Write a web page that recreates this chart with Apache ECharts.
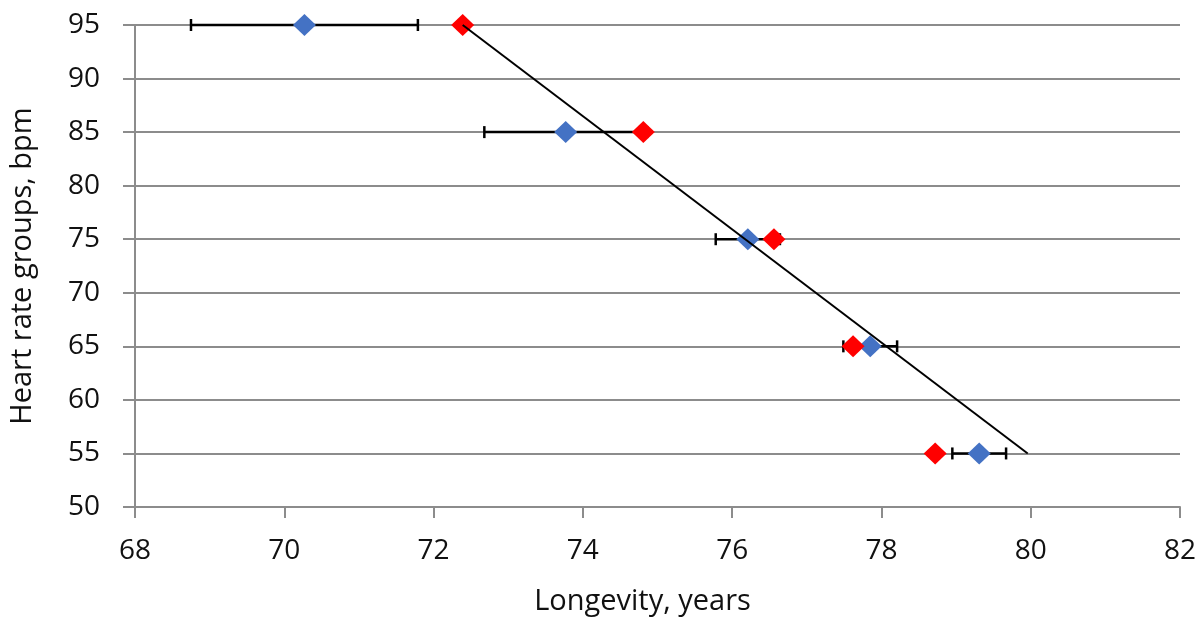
<!DOCTYPE html>
<html>
<head>
<meta charset="utf-8">
<script src="https://cdn.jsdelivr.net/npm/echarts@6/dist/echarts.min.js"></script>
<style>
  html, body { margin: 0; padding: 0; background: #fff; }
  #chart { width: 1200px; height: 621px; }
</style>
</head>
<body>
<div id="chart"></div>
<script>
  // heart rate groups (y) and longevity (x)
  var hrGroups = [95, 85, 75, 65, 55];
  var blueLongevity = [70.27, 73.77, 76.21, 77.85, 79.31];
  var blueErr = [1.52, 1.09, 0.43, 0.36, 0.36];
  var redLongevity = [72.39, 74.81, 76.56, 77.62, 78.72];
  var trendX = [72.39, 79.96];
  var trendY = [95, 55];

  var gridGray = '#8c8c8c';
  var fontFam = '"Open Sans", sans-serif';
  var diamond = 'path://M0,-1L1,0L0,1L-1,0Z';

  var bluePts = hrGroups.map(function (y, i) { return [blueLongevity[i], y]; });
  var redPts = hrGroups.map(function (y, i) { return [redLongevity[i], y]; });
  var errData = hrGroups.map(function (y, i) {
    return [blueLongevity[i] - blueErr[i], blueLongevity[i] + blueErr[i], y];
  });
  var trendPts = trendX.map(function (x, i) { return [x, trendY[i]]; });

  var chart = echarts.init(document.getElementById('chart'));
  chart.setOption({
    animation: false,
    grid: { left: 133, right: 20, top: 25, bottom: 114 },
    xAxis: {
      type: 'value',
      min: 68, max: 82, interval: 2,
      name: 'Longevity, years',
      nameLocation: 'middle',
      nameGap: 80,
      nameTextStyle: { fontFamily: fontFam, fontSize: 29, color: '#111', padding: [0, 30, 0, 0] },
      axisLine: { show: true, lineStyle: { color: gridGray, width: 2 } },
      axisTick: { show: true, length: 11, lineStyle: { color: gridGray, width: 2 } },
      axisLabel: { margin: 30, fontFamily: fontFam, fontSize: 28, color: '#111' },
      splitLine: { show: false }
    },
    yAxis: {
      type: 'value',
      min: 50, max: 95, interval: 5,
      name: 'Heart rate groups, bpm',
      nameLocation: 'middle',
      nameGap: 98,
      nameTextStyle: { fontFamily: fontFam, fontSize: 29, color: '#111' },
      axisLine: { show: true, lineStyle: { color: gridGray, width: 2 } },
      axisTick: { show: true, length: 12, lineStyle: { color: gridGray, width: 2 } },
      axisLabel: { margin: 35, fontFamily: fontFam, fontSize: 28, color: '#111' },
      splitLine: { show: true, lineStyle: { color: gridGray, width: 2 } }
    },
    series: [
      {
        type: 'custom',
        z: 1,
        data: errData,
        renderItem: function (params, api) {
          var lo = api.coord([api.value(0), api.value(2)]);
          var hi = api.coord([api.value(1), api.value(2)]);
          var cap = 6;
          var st = { stroke: '#000', lineWidth: 2.5 };
          return {
            type: 'group',
            children: [
              { type: 'line', shape: { x1: lo[0], y1: lo[1], x2: hi[0], y2: hi[1] }, style: st },
              { type: 'line', shape: { x1: lo[0], y1: lo[1] - cap, x2: lo[0], y2: lo[1] + cap }, style: st },
              { type: 'line', shape: { x1: hi[0], y1: hi[1] - cap, x2: hi[0], y2: hi[1] + cap }, style: st }
            ]
          };
        }
      },
      {
        type: 'scatter',
        z: 2,
        symbol: diamond,
        symbolSize: [23, 22],
        itemStyle: { color: '#4472c4', opacity: 1 },
        data: bluePts
      },
      {
        type: 'scatter',
        z: 3,
        symbol: diamond,
        symbolSize: [23, 22],
        itemStyle: { color: '#ff0000', opacity: 1 },
        data: redPts
      },
      {
        type: 'line',
        z: 4,
        symbol: 'none',
        lineStyle: { color: '#000', width: 2 },
        data: trendPts
      }
    ]
  });
</script>
</body>
</html>
